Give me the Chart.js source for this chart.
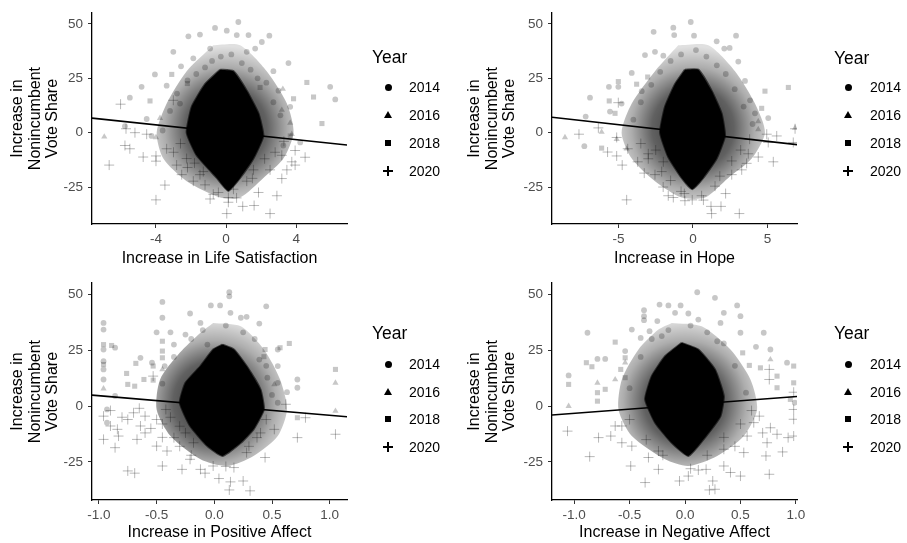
<!DOCTYPE html>
<html>
<head>
<meta charset="utf-8">
<script src="https://cdn.jsdelivr.net/npm/chart.js@4.4.1/dist/chart.umd.min.js"></script>
<style>
  body { margin: 0; background: #fff; }
  #wrap { position: relative; width: 907px; height: 543px; overflow: hidden; font-family: "Liberation Sans", Arial, sans-serif; }
  canvas { position: absolute; }
  .lg { position: absolute; color: #000; white-space: nowrap; }
  .lg-title { font-size: 17.5px; }
  .lg-item { font-size: 14px; }
  .sym { position: absolute; }
</style>
</head>
<body>
<div id="wrap">
  <canvas id="c1" width="455" height="270" style="left:0;top:0"></canvas>
  <canvas id="c2" width="452" height="270" style="left:455px;top:0"></canvas>
  <canvas id="c3" width="455" height="273" style="left:0;top:270px"></canvas>
  <canvas id="c4" width="452" height="273" style="left:455px;top:270px"></canvas>
</div>
<script>
// ---- data ----
const years = ['2014', '2016', '2018', '2020'];
const yTicks = [-25, 0, 25, 50];
const lifeTicks = [-4, 0, 4];
const hopeTicks = [-5, 0, 5];
const affectTicks = [-1, -0.5, 0, 0.5, 1];

// Increase in Life Satisfaction
const life2014 = [[0.7,50.9],[-0.63,48.2],[-1.49,45.1],[-2.15,44.3],[0.04,46.9],[0.61,44.9],[1.28,44.9],[2.47,44.6],[2.04,41.7],[-3.01,37.2],[1.66,38.7],[3.56,32.0],[-2.57,30.5],[-4.06,26.8],[-4.82,21.1],[-3.39,21.6],[-5.49,16.1],[5.94,21.1],[6.23,15.3],[-3.62,1.0],[-4.53,6.3],[-5.77,3.0],[4.23,-4.5],[3.27,-5.9],[2.7,28.3],[-1.87,34.2],[-0.91,38.7],[1.18,37.2],[2.99,19.3],[-2.63,13.4],[3.66,11.9],[-4.25,-1.5],
    [-1.2,30],[-0.8,33],[-0.3,35],[0.3,36],[0.9,32],[1.4,29],[1.8,25],[-1.7,27],[-2.2,24],[2.3,23],[-2.8,18],[2.7,14],[-3.2,10],[3.1,8]];
const life2016 = [[-6.95,-1.9],[-4.0,-2.2],[3.24,20.1],[3.66,4.5],[3.18,10.4],[3.75,-0.7],[-3.77,6.7]];
const life2018 = [[4.61,23.1],[4.99,16.4],[3.85,15.6],[5.47,4.2],[-4.34,14.6],[-2.21,22.6],[-3.1,26.8],[3.66,-1.5],[1.94,20.8]];
const life2020 = [[-6.02,13.1],[-6.67,-14.9],[-5.71,1.8],[-5.77,-5.9],[-5.49,-7.4],[-4.73,-11.2],[-4.0,-10.7],[-4.0,-13.1],[-4.0,-30.9],[-3.49,-24.1],[-2.82,-14.9],[-3.01,14.9],[-2.53,-19.3],[-1.87,-22.3],[-1.3,-17.9],[-0.73,-28.3],[-0.44,-27.5],[-0.91,-30.5],[0.04,-37.2],[0.13,-32.0],[0.13,-29.8],[0.95,-33.9],[1.6,-33.5],[2.51,-37.2],[1.85,-27.5],[2.9,-29.0],[3.18,-21.1],[2.51,-17.1],[1.18,-22.3],[3.94,-8.2],[4.51,-11.3],[3.94,-14.9],[3.47,-17.1],[3.18,-10.4],[3.75,-13.4],[-2.25,-11.9],[-3.39,-7.4],[-4.53,-0.7],[-5.2,0],[0.42,-26.0],[-1.49,-19.3],[1.56,-17.1],
    [-3,-9],[-2.6,-5],[-2.2,-16],[-1.2,-24],[1.5,-21],[2.2,-12],[2.8,-9],[3.3,-4],[-1.8,-14],[0.6,-30]];
const lifeCore = [[-0.34,29],[0.42,28.3],[1.18,19.3],[1.85,8.9],[2.13,-1.5],[1.56,-11.9],[0.8,-20.8],[0.13,-26.8],[-0.53,-20.8],[-1.68,-10.4],[-2.25,0],[-1.96,11.9],[-1.2,22.3],[-0.34,29]];
const lifeHalo = [[-0.73,40.2],[0.8,40.2],[2.32,28.3],[3.47,13.4],[3.85,0],[3.27,-11.9],[2.13,-20.8],[0.8,-29.8],[-0.34,-29.8],[-2.25,-22.3],[-3.58,-11.9],[-3.96,0],[-3.39,13.4],[-2.25,28.3],[-0.73,40.2]];
const lifeFit = [[-7.65,6.7],[6.9,-5.7]];

// Increase in Hope
const hope2014 = [[-0.15,50.9],[-1.32,48.3],[-2.64,46.4],[-1.26,44.9],[0.07,44.6],[1.59,42],[2.89,44.6],[2.1,38.7],[2.46,39],[-2.55,37.2],[-3.22,35.7],[-1.99,35.4],[3.04,32.7],[-4.11,27.5],[-5.01,21.1],[-5.64,21.1],[-6.91,16.1],[-7.2,7.4],[-7.29,-6.2],[-5.57,9.7],[-4.79,13.4],[5.05,6.7],[3.83,14.9],[3.49,23.8],[-3.44,19.1],[1.14,17.9],[4.16,8.9],
    [-1.5,33],[-0.8,36],[0.2,38],[0.9,35],[1.6,31],[2.2,27],[-2.2,28],[-2.8,22],[2.8,20],[-3.5,14],[3.4,12],[-4,6],[4,4]];
const hope2016 = [[-8.59,-2.2],[-6.13,0.3],[-5.12,-3.0],[-4.45,-7.4],[4.38,5.2],[4.38,1.5],[6.85,2.2]];
const hope2018 = [[-5.62,14.6],[-5.01,23.5],[-3.04,25.6],[-3.78,22.3],[6.4,20.8],[4.83,19.1],[4.61,11.2],[-6.13,-7.1],[-5.23,8.9]];
const hope2020 = [[-7.65,-0.7],[-6.35,2.2],[-5.73,-8.9],[-5.12,-10.7],[-4.75,-14.9],[-5.12,-2.2],[-5.01,13.8],[-4.38,-7.4],[-3.71,-13.4],[-3.27,-18.6],[-4.45,-30.9],[-3.0,-9.7],[-2.1,-17.9],[-1.66,-29],[-1.32,-29.8],[-0.58,-28],[-0.54,-31.3],[-0.05,-30.9],[0.58,-29],[1.21,-33.9],[1.25,-37.2],[1.88,-33.9],[3.11,-37.2],[2.19,-28],[1.48,-24.6],[2.6,-19.3],[3.27,-17.1],[3.6,-14.1],[4.38,-11.2],[5.39,-13.4],[3.71,-9.7],[4.95,-0.7],[5.62,-1.5],[6.85,1.8],[6.73,-4.5],[5.05,-4.5],[-2.55,-19.3],[-1.99,-13.4],
    [-3.5,-5],[-3,-12],[-2.5,-8],[-1.5,-22],[1.8,-20],[2.6,-13],[3.2,-8],[3.8,-3],[-0.8,-27],[0.7,-31],[-2,-25]];
const hopeCore = [[-0.54,29],[0.36,29],[1.25,19.3],[1.92,8.9],[2.15,-1.5],[1.59,-11.9],[0.69,-20.8],[-0.05,-26],[-0.76,-20.8],[-1.66,-11.2],[-2.21,0],[-1.88,11.9],[-1.21,22.3],[-0.54,29]];
const hopeHalo = [[-0.99,40.2],[1.03,40.2],[2.82,28.3],[4.16,13.4],[4.83,0],[3.94,-11.9],[2.37,-20.8],[0.81,-29.8],[-0.76,-29.8],[-2.55,-22.3],[-4.11,-11.9],[-4.79,0],[-4.11,13.4],[-2.55,28.3],[-0.99,40.2]];
const hopeFit = [[-9.46,7.1],[6.98,-5.5]];

// Increase in Positive Affect
const pos2014 = [[0.13,50.9],[0.13,49.1],[-0.03,45],[0.05,45],[-0.45,46.6],[0.45,44.6],[-0.45,39.5],[-0.96,37.2],[-0.96,34.2],[-0.5,33],[-0.21,41.4],[-0.12,37.2],[0.28,39.9],[0.39,36.9],[0.14,41.7],[0.23,39.5],[-0.38,33],[0.55,25.3],[0.55,17.9],[0.55,10.4],[0.55,1.5],[0.63,6.2],[0.72,11.9],[0.72,8.2],[-0.35,27.5],[0.46,12.7],[0.39,20.8],[-0.06,27.5],[-0.96,25.3],[-0.96,20.1],[-0.86,26.1],[-0.64,21.6],[-0.43,17.9],[-0.54,19.4],[-0.96,16.4],[-0.96,11.9],[-0.93,-7.4],[-0.86,4.5],[-0.93,-1.5],
    [-0.25,32],[-0.1,34],[0.1,36],[0.25,33],[0.35,30],[-0.35,22],[0.45,18],[-0.45,10],[0.5,5],[-0.2,30]];
const pos2016 = [[1.05,10.4],[1.05,-2.2],[0.52,9.7],[-0.45,16.4],[-0.96,7.8]];
const pos2018 = [[1.05,16.4],[0.65,28],[0.57,26.1],[0.43,22.1],[-0.96,27.5],[-0.96,18.6],[-0.89,27.1],[-0.68,19.1],[-0.76,14.6],[-0.61,11.9],[-0.53,11.6],[-0.45,29],[-0.45,24.6],[-0.45,21.6],[-0.69,8.9],[-0.75,9.7],[0.72,-5.2],[-0.53,17.9],[0.44,25.3]];
const pos2020 = [[-0.96,-4.5],[-0.96,-14.9],[-0.9,-8.9],[-0.84,-10.4],[-0.86,-18.6],[-0.83,-13.4],[-0.75,-29],[-0.69,-30],[-0.64,-8.9],[-0.67,-14.9],[-0.53,13.4],[-0.6,-4.5],[-0.5,-17.9],[-0.45,-26.8],[-0.41,-20.1],[-0.35,-14.1],[-0.28,-28.3],[-0.21,-23.8],[-0.12,-28.3],[-0.08,-30],[-0.01,-26.8],[0.04,-32.4],[0.14,-33.9],[0.13,-37.5],[0.25,-33.5],[0.31,-37.9],[0.17,-27.5],[0.28,-20.8],[0.44,-23],[0.62,0.8],[0.72,-14.1],[0.79,-5.2],[1.05,-12.6],[0.52,-10.4],[0.37,-14.1],[-0.18,-16.4],[-0.8,-5],[-0.7,-3],[-0.55,-10],[-0.45,-8],[-0.45,-14],[-0.38,-5],[-0.3,-9],[-0.9,-2],[-0.75,-6],[-0.6,-12],[-0.42,-1.5],[-0.65,-1],
    [-0.3,-18],[-0.2,-22],[0.3,-18],[0.4,-12],[0.45,-6],[-0.5,-6],[-0.25,-12],[0.1,-27]];
const posCore = [[0.07,27.5],[0.17,25.3],[0.28,17.9],[0.4,7.5],[0.43,-1.5],[0.34,-10.4],[0.23,-16.4],[0.07,-22.3],[-0.06,-17.9],[-0.21,-8.9],[-0.3,1.5],[-0.25,10.4],[-0.12,17.9],[-0.01,25.3],[0.07,27.5]];
const posHalo = [[-0.01,37.2],[0.23,35.7],[0.43,25.3],[0.57,11.9],[0.63,-1.5],[0.55,-13.4],[0.34,-22.3],[0.11,-26.8],[-0.12,-23.8],[-0.38,-13.4],[-0.5,-1.5],[-0.47,11.9],[-0.3,23.8],[-0.12,32.8],[-0.01,37.2]];
const posFit = [[-1.06,4.9],[1.15,-4.8]];

// Increase in Negative Affect
const neg2014 = [[0.11,50.9],[0.27,48.4],[0.47,45],[-0.23,45.4],[-0.15,45],[-0.04,45],[-0.37,42.9],[-0.37,40.2],[-0.37,38.4],[-0.09,41.7],[0.03,41.4],[-0.88,32.8],[-0.48,34.2],[-0.4,30.5],[-0.32,33.5],[-0.21,31.3],[0.12,38.7],[0.32,37.2],[0.5,40.2],[0.5,32.8],[0.71,32.8],[0.77,25.3],[0.64,26.5],[-1.05,13.7],[-0.79,21.1],[-0.72,21.1],[-0.54,24.6],[0.92,19.4],[0.35,41.7],[0.29,29],[0.99,1.5],
    [-0.3,30],[-0.15,34],[0.05,36],[0.2,33],[0.35,28],[-0.4,22],[0.45,18],[-0.5,8],[0.55,6],[-0.25,38]];
const neg2016 = [[-0.63,11.9],[-0.79,10.4],[-1.05,0],[-0.54,19.4],[0.77,20.8]];
const neg2018 = [[-0.89,19.4],[-0.84,17.6],[-1.05,9.7],[-0.79,6],[-0.79,2.2],[-0.72,7.5],[-0.63,28.6],[-0.58,16.4],[-0.54,21.6],[-0.54,12.7],[0.58,18.2],[0.68,17.1],[0.83,13.4],[0.83,8.2],[0.98,17.9],[0.98,10.4],[0.95,3],[0.52,23.8]];
const neg2020 = [[-1.06,-11.2],[-0.86,-22.6],[-0.78,-14.1],[-0.67,-13.4],[-0.63,-8.9],[-0.57,-16.4],[-0.48,-17.9],[-0.49,-26.8],[-0.36,-34.2],[-0.33,-23],[-0.24,-28.3],[-0.05,-33.5],[0.03,-31.3],[0.12,-28.6],[0.19,-28.3],[0.22,-37.5],[0.27,-37.2],[0.25,-33.5],[0.35,-26.8],[0.41,-29.7],[0.5,-31.3],[0.76,-30.5],[0.73,-22.3],[0.88,-20.5],[0.74,-16.4],[0.83,-12.6],[0.93,-14.1],[0.98,-13.4],[0.98,-5.9],[0.98,-1.5],[0.98,6.2],[0.77,-9.7],[0.67,-4.5],[0.56,-13.4],[0.62,-7.4],[0.76,16.4],[0.76,11.9],[0.53,-20.8],[0.35,-19.3],[-0.24,-20.1],[-0.57,-8.9],
    [-0.35,-15],[-0.2,-22],[0.2,-22],[0.35,-14],[0.5,-8],[-0.5,-6],[0.6,-2],[0.05,-28],[0.45,-18],[0.7,-12]];
const negCore = [[-0.03,28.3],[0.12,25.3],[0.27,16.4],[0.35,4.5],[0.32,-4.5],[0.19,-13.4],[0.03,-22.3],[-0.12,-16.4],[-0.27,-7.4],[-0.36,3],[-0.3,13.4],[-0.18,22.3],[-0.03,28.3]];
const negHalo = [[-0.12,37.2],[0.15,35.7],[0.41,25.3],[0.59,11.9],[0.65,-1.5],[0.53,-13.4],[0.29,-22.3],[0.03,-26.8],[-0.18,-23.8],[-0.48,-13.4],[-0.6,-1.5],[-0.57,11.9],[-0.42,25.3],[-0.24,34.2],[-0.12,37.2]];
const negFit = [[-1.2,-4.0],[1.01,4.3]];

// ---- drawing ----
Chart.defaults.font.family = '"Liberation Sans", Arial, sans-serif';
Chart.defaults.animation = false;

const ptAlpha = 'rgba(0,0,0,0.22)';

function pts(data, style, r) {
    return {
        data: data,
        pointStyle: style,
        pointRadius: r,
        backgroundColor: style === 'cross' ? 'rgba(0,0,0,0)' : ptAlpha,
        borderColor: style === 'cross' ? 'rgba(0,0,0,0.28)' : 'rgba(0,0,0,0)',
        borderWidth: style === 'cross' ? 1 : 0,
        order: 2
    };
}

// soft fall-off for the dense cloud around the core
function haloFill(ctx) {
    const chart = ctx.chart;
    if (!chart.chartArea) return 'rgba(0,0,0,0.35)';
    const cx = chart.scales.x.getPixelForValue(0);
    const cy = chart.scales.y.getPixelForValue(2);
    const g = chart.ctx.createRadialGradient(cx, cy, 0, cx, cy, 82);
    g.addColorStop(0, 'rgba(0,0,0,0.85)');
    g.addColorStop(0.5, 'rgba(0,0,0,0.62)');
    g.addColorStop(0.75, 'rgba(0,0,0,0.32)');
    g.addColorStop(1, 'rgba(0,0,0,0.12)');
    return g;
}

function makePanel(id, o) {
    new Chart(document.getElementById(id), {
        type: 'scatter',
        data: {
            datasets: [
                { type: 'line', data: o.fit, borderColor: '#000', borderWidth: 1.6, pointRadius: 0, order: 0 },
                pts(o.s2020, 'cross', 5),
                pts(o.s2018, 'rect', 3.6),
                pts(o.s2016, 'triangle', 3.6),
                pts(o.s2014, 'circle', 2.9),
                { type: 'line', data: o.core, fill: 'shape', backgroundColor: '#000', borderColor: 'rgba(0,0,0,0.6)',
                  borderWidth: 2, pointRadius: 0, tension: 0.15, order: 3 },
                { type: 'line', data: o.halo, fill: 'shape', backgroundColor: haloFill, borderColor: 'rgba(0,0,0,0)',
                  borderWidth: 0, pointRadius: 0, tension: 0.25, order: 4 }
            ]
        },
        options: {
            responsive: false,
            events: [],
            layout: { padding: { left: 0, top: o.padTop, right: o.padRight, bottom: 0 } },
            plugins: { legend: { display: false }, tooltip: { enabled: false } },
            scales: {
                x: {
                    type: 'linear',
                    min: o.xmin,
                    max: o.xmax,
                    afterBuildTicks: s => { s.ticks = o.xticks.map(v => ({ value: v })); },
                    afterFit: s => { s.height = o.xh; },
                    ticks: {
                        autoSkip: false, maxRotation: 0, color: '#4d4d4d', padding: 3,
                        font: { size: 13.5 },
                        callback: v => o.dec ? Number(v).toFixed(1) : String(v)
                    },
                    grid: { drawOnChartArea: false, drawTicks: true, tickLength: 4, color: '#333', lineWidth: 1 },
                    border: { display: true, color: '#000', width: 1.3 },
                    title: { display: true, text: o.xtitle, color: '#000', font: { size: 16 }, padding: { top: 0, bottom: o.xtPad } }
                },
                y: {
                    type: 'linear',
                    min: -42,
                    max: 55,
                    afterBuildTicks: s => { s.ticks = yTicks.map(v => ({ value: v })); },
                    afterFit: s => { s.width = o.yw; },
                    ticks: { color: '#4d4d4d', padding: 5, font: { size: 13.5 } },
                    grid: { drawOnChartArea: false, drawTicks: true, tickLength: 4, color: '#333', lineWidth: 1 },
                    border: { display: true, color: '#000', width: 1.3 },
                    title: {
                        display: true, text: ['Increase in', 'Nonincumbent', 'Vote Share'], color: '#000',
                        font: { size: 16, lineHeight: 1.09 }, padding: { top: o.ytPad, bottom: 0 }
                    }
                }
            }
        }
    });
}

makePanel('c1', { s2014: life2014, s2016: life2016, s2018: life2018, s2020: life2020, core: lifeCore, halo: lifeHalo, fit: lifeFit,
    xmin: -7.65, xmax: 6.9, xticks: lifeTicks, dec: false, xtitle: 'Increase in Life Satisfaction',
    padTop: 7, padRight: 108, xh: 46, yw: 92, xtPad: 2, ytPad: 9 });
makePanel('c2', { s2014: hope2014, s2016: hope2016, s2018: hope2018, s2020: hope2020, core: hopeCore, halo: hopeHalo, fit: hopeFit,
    xmin: -9.46, xmax: 6.98, xticks: hopeTicks, dec: false, xtitle: 'Increase in Hope',
    padTop: 7, padRight: 110, xh: 46, yw: 97, xtPad: 2, ytPad: 11 });
makePanel('c3', { s2014: pos2014, s2016: pos2016, s2018: pos2018, s2020: pos2020, core: posCore, halo: posHalo, fit: posFit,
    xmin: -1.06, xmax: 1.15, xticks: affectTicks, dec: true, xtitle: 'Increase in Positive Affect',
    padTop: 13, padRight: 108, xh: 43, yw: 92, xtPad: 1, ytPad: 9 });
makePanel('c4', { s2014: neg2014, s2016: neg2016, s2018: neg2018, s2020: neg2020, core: negCore, halo: negHalo, fit: negFit,
    xmin: -1.2, xmax: 1.01, xticks: affectTicks, dec: true, xtitle: 'Increase in Negative Affect',
    padTop: 13, padRight: 110, xh: 43, yw: 97, xtPad: 1, ytPad: 11 });

// ---- legends ----
const wrap = document.getElementById('wrap');
function symbol(kind, cx, cy) {
    const d = document.createElement('div');
    d.className = 'sym';
    if (kind === 0) {
        Object.assign(d.style, { left: (cx - 3.5) + 'px', top: (cy - 3.5) + 'px', width: '7px', height: '7px', borderRadius: '50%', background: '#000' });
    } else if (kind === 1) {
        Object.assign(d.style, { left: (cx - 4) + 'px', top: (cy - 4) + 'px', width: 0, height: 0,
            borderLeft: '4px solid transparent', borderRight: '4px solid transparent', borderBottom: '7px solid #000' });
    } else if (kind === 2) {
        Object.assign(d.style, { left: (cx - 3) + 'px', top: (cy - 3) + 'px', width: '6px', height: '6px', background: '#000' });
    } else {
        Object.assign(d.style, { left: (cx - 5) + 'px', top: (cy - 5) + 'px', width: '10px', height: '10px' });
        d.innerHTML = '<div style="position:absolute;left:0;top:4.4px;width:10px;height:1.2px;background:#000"></div>' +
                      '<div style="position:absolute;left:4.4px;top:0;width:1.2px;height:10px;background:#000"></div>';
    }
    wrap.appendChild(d);
}
function legend(x, symX, txtX, yTitle, rows) {
    const t = document.createElement('div');
    t.className = 'lg lg-title';
    t.textContent = 'Year';
    Object.assign(t.style, { left: x + 'px', top: (yTitle - 10) + 'px', lineHeight: '20px' });
    wrap.appendChild(t);
    years.forEach((yr, i) => {
        symbol(i, symX, rows[i]);
        const e = document.createElement('div');
        e.className = 'lg lg-item';
        e.textContent = yr;
        Object.assign(e.style, { left: txtX + 'px', top: (rows[i] - 8) + 'px', lineHeight: '16px' });
        wrap.appendChild(e);
    });
}
legend(372, 388, 409, 57, [87, 115, 143, 171]);
legend(834, 848, 870, 58, [87, 115, 143, 171]);
legend(372, 388, 409, 333, [364, 392, 419, 447]);
legend(834, 848, 870, 333, [364, 392, 419, 447]);
</script>
</body>
</html>
